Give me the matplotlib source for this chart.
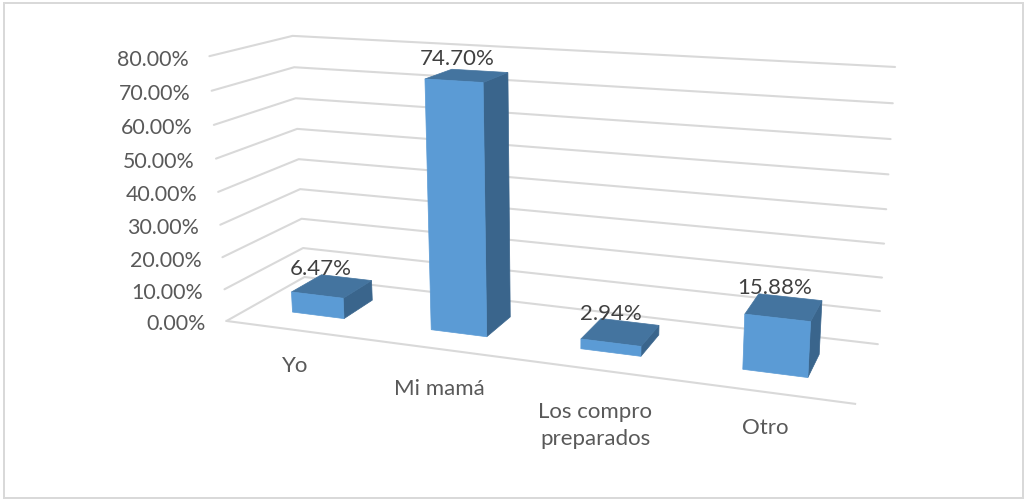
import numpy as np
import matplotlib
matplotlib.use("Agg")
import matplotlib.pyplot as plt
from matplotlib.patches import Polygon, Rectangle

plt.rcParams['font.family'] = ['Lato', 'DejaVu Sans']

categories = ["Yo", "Mi mamá", "Los compro\npreparados", "Otro"]
values = [6.47, 74.70, 2.94, 15.88]
value_labels = ["6.47%", "74.70%", "2.94%", "15.88%"]
y_ticks = [0, 10, 20, 30, 40, 50, 60, 70, 80]
y_tick_labels = ["0.00%", "10.00%", "20.00%", "30.00%", "40.00%", "50.00%", "60.00%", "70.00%", "80.00%"]

W, H = 1025, 502

# (categoria, profundidad, valor) -> pixel de la imagen, para ajustar la camara
anchors = [
    ((0, 0, 0), (227, 322)), ((4, 0, 0), (855, 405)),
    ((0, 1, 0), (304, 278)), ((4, 1, 0), (878, 345)),
    ((0, 0, 80), (209, 57)), ((0, 1, 80), (293, 37)),
    ((4, 1, 80), (895, 68)),
]
# ajuste vertical de cada etiqueta de categoria
cat_nudge = [0, 4, 6, 0]


def fit_camera(pairs):
    # DLT: matriz 3x4 de proyeccion por minimos cuadrados
    rows = []
    for (a, b, c), (u, v) in pairs:
        rows.append([a, b, c, 1, 0, 0, 0, 0, -u*a, -u*b, -u*c, -u])
        rows.append([0, 0, 0, 0, a, b, c, 1, -v*a, -v*b, -v*c, -v])
    scale = np.array(rows, dtype=float)
    _, _, vt = np.linalg.svd(scale)
    return vt[-1].reshape(3, 4)


cam = fit_camera(anchors)


def proj(a, b, c):
    p = cam @ np.array([a, b, c, 1.0])
    return p[0]/p[2], p[1]/p[2]


fig = plt.figure(figsize=(W/100, H/100), dpi=100)
ax = fig.add_axes([0, 0, 1, 1])
ax.set_xlim(0, W)
ax.set_ylim(H, 0)
ax.axis("off")

ax.add_patch(Rectangle((4, 4), W-6, H-7, fill=False, ec="#d9d9d9", lw=1.44))

grid = "#d9d9d9"
text_col = "#595959"
for t, lab in zip(y_ticks, y_tick_labels):
    x0, y0 = proj(0, 0, t)
    x1, y1 = proj(0, 1, t)
    x2, y2 = proj(4, 1, t)
    ax.plot([x0, x1, x2], [y0, y1, y2], color=grid, lw=1.5, solid_capstyle="round", zorder=1)
    ax.text(x0-21, y0+2.5, lab, ha="right", va="center", fontsize=15.4, color=text_col)
# suelo, solo el borde frontal
fl, fr = proj(0, 0, 0), proj(4, 0, 0)
ax.plot([fl[0], fr[0]], [fl[1], fr[1]], color=grid, lw=1.5, zorder=1)

front_col, top_col, side_col = "#5b9bd5", "#44749f", "#3a658c"
bar_w = 0.38
d0, d1 = 0.3, 0.7
for i, v in enumerate(values):
    a0, a1 = i+0.5-bar_w/2, i+0.5+bar_w/2
    front = [proj(a0, d0, 0), proj(a1, d0, 0), proj(a1, d0, v), proj(a0, d0, v)]
    side = [proj(a1, d0, 0), proj(a1, d1, 0), proj(a1, d1, v), proj(a1, d0, v)]
    top = [proj(a0, d0, v), proj(a1, d0, v), proj(a1, d1, v), proj(a0, d1, v)]
    ax.add_patch(Polygon(side, fc=side_col, ec=side_col, lw=0.5, zorder=3))
    ax.add_patch(Polygon(top, fc=top_col, ec=top_col, lw=0.5, zorder=3))
    ax.add_patch(Polygon(front, fc=front_col, ec=front_col, lw=0.5, zorder=3))
    tx, ty = proj(i+0.5, d1, v)
    ax.text(tx-26+3.5*i, ty-9-v/20, value_labels[i], ha="center", va="center", fontsize=16, color="#404040", zorder=4)

for i, cat in enumerate(categories):
    x, y = proj(i+0.5, 0, 0)
    ax.text(x, y+25+cat_nudge[i], cat, ha="center", va="top", fontsize=16, color=text_col, linespacing=1.45)

fig.savefig("out.png", dpi=100)
